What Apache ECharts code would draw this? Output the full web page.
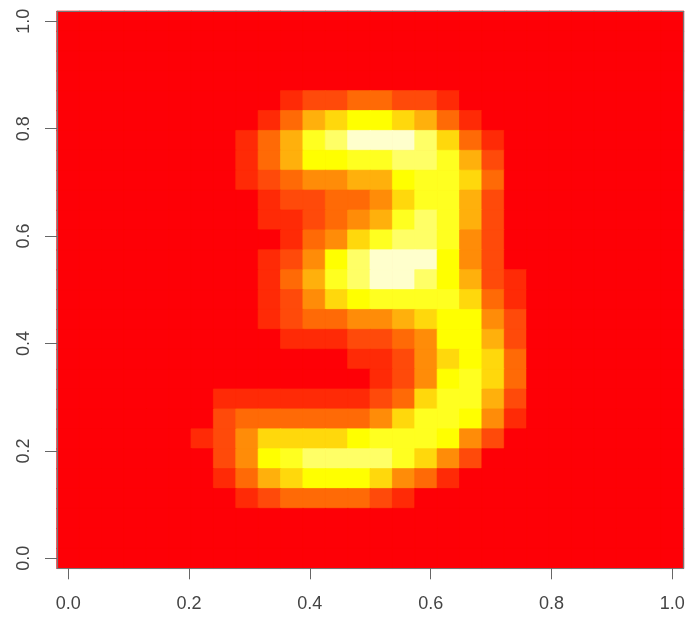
<!DOCTYPE html>
<html>
<head>
<meta charset="utf-8">
<style>html,body{margin:0;padding:0;background:#fff}#c{width:690px;height:618px}</style>
<script src="https://cdn.jsdelivr.net/npm/echarts@6/dist/echarts.min.js"></script>
</head>
<body>
<div id="c"></div>
<script>
const levelColors = ['#fe0006','#ff2a06','#ff4a0a','#ff6a06','#ff8c08','#ffb00c','#ffd80c','#ffff00','#ffff20','#ffff66','#ffffcc'];
const tickValues = [0, 0.2, 0.4, 0.6, 0.8, 1];
const pixelRows = [
[0,0,0,0,0,0,0,0,0,0,0,0,0,0,0,0,0,0,0,0,0,0,0,0,0,0,0,0],
[0,0,0,0,0,0,0,0,0,0,0,0,0,0,0,0,0,0,0,0,0,0,0,0,0,0,0,0],
[0,0,0,0,0,0,0,0,0,0,0,0,0,0,0,0,0,0,0,0,0,0,0,0,0,0,0,0],
[0,0,0,0,0,0,0,0,0,0,0,0,0,0,0,0,0,0,0,0,0,0,0,0,0,0,0,0],
[0,0,0,0,0,0,0,0,0,0,1,2,2,3,3,2,2,1,0,0,0,0,0,0,0,0,0,0],
[0,0,0,0,0,0,0,0,0,1,3,5,6,7,7,6,5,3,1,0,0,0,0,0,0,0,0,0],
[0,0,0,0,0,0,0,0,1,3,5,8,9,10,10,10,9,6,3,1,0,0,0,0,0,0,0,0],
[0,0,0,0,0,0,0,0,1,3,5,7,7,8,8,9,9,8,5,2,0,0,0,0,0,0,0,0],
[0,0,0,0,0,0,0,0,1,2,3,4,4,5,5,7,8,8,6,3,0,0,0,0,0,0,0,0],
[0,0,0,0,0,0,0,0,0,1,2,2,3,3,4,6,8,8,5,2,0,0,0,0,0,0,0,0],
[0,0,0,0,0,0,0,0,0,1,1,2,3,4,5,8,9,8,5,2,0,0,0,0,0,0,0,0],
[0,0,0,0,0,0,0,0,0,0,1,3,4,6,8,9,9,8,4,2,0,0,0,0,0,0,0,0],
[0,0,0,0,0,0,0,0,0,1,2,4,7,9,10,10,10,7,4,2,0,0,0,0,0,0,0,0],
[0,0,0,0,0,0,0,0,0,1,3,5,8,9,10,10,9,7,5,2,1,0,0,0,0,0,0,0],
[0,0,0,0,0,0,0,0,0,1,2,4,6,7,8,8,8,8,6,3,1,0,0,0,0,0,0,0],
[0,0,0,0,0,0,0,0,0,1,2,3,3,4,4,5,6,7,7,4,2,0,0,0,0,0,0,0],
[0,0,0,0,0,0,0,0,0,0,1,1,1,2,2,3,4,7,7,5,2,0,0,0,0,0,0,0],
[0,0,0,0,0,0,0,0,0,0,0,0,0,1,1,2,4,6,7,6,3,0,0,0,0,0,0,0],
[0,0,0,0,0,0,0,0,0,0,0,0,0,0,1,2,4,7,8,6,3,0,0,0,0,0,0,0],
[0,0,0,0,0,0,0,1,1,1,1,1,1,1,2,3,6,8,8,5,2,0,0,0,0,0,0,0],
[0,0,0,0,0,0,0,2,3,3,3,3,3,3,4,6,8,8,7,4,1,0,0,0,0,0,0,0],
[0,0,0,0,0,0,1,2,4,6,6,6,6,7,8,8,8,7,4,2,0,0,0,0,0,0,0,0],
[0,0,0,0,0,0,0,2,4,7,8,9,9,9,9,8,6,4,2,0,0,0,0,0,0,0,0,0],
[0,0,0,0,0,0,0,1,3,5,6,7,7,7,6,4,3,1,0,0,0,0,0,0,0,0,0,0],
[0,0,0,0,0,0,0,0,1,2,3,3,3,3,2,1,0,0,0,0,0,0,0,0,0,0,0,0],
[0,0,0,0,0,0,0,0,0,0,0,0,0,0,0,0,0,0,0,0,0,0,0,0,0,0,0,0],
[0,0,0,0,0,0,0,0,0,0,0,0,0,0,0,0,0,0,0,0,0,0,0,0,0,0,0,0],
[0,0,0,0,0,0,0,0,0,0,0,0,0,0,0,0,0,0,0,0,0,0,0,0,0,0,0,0]
];

const cells = [];
pixelRows.forEach((row, r) => row.forEach((v, c) => {
  const color = levelColors[v];
  cells.push({ value: [c, r, v], itemStyle: { color, borderColor: color, borderWidth: 0.7 } });
}));
const indexCats = pixelRows.map((_, i) => i);
const halfCell = 1 / 54;
const tickLabelColor = '#444444', axisColor = '#666', frameColor = '#777777';
const labelFont = { color: tickLabelColor, fontFamily: '"Liberation Sans", Arial, sans-serif', fontSize: 18 };
const frameLine = { show: true, onZero: false, lineStyle: { color: frameColor, width: 1.2 } };

const chart = echarts.init(document.getElementById('c'), null, { renderer: 'canvas' });
chart.setOption({
  animation: false,
  backgroundColor: '#fff',
  grid: { left: 57, right: 6.5, top: 11.3, bottom: 49.7, show: true, borderWidth: 0, backgroundColor: levelColors[0], containLabel: false },
  xAxis: [
    { type: 'category', data: indexCats, position: 'top', boundaryGap: true, z: 5,
      axisLine: frameLine, axisTick: { show: false }, axisLabel: { show: false }, splitLine: { show: false } },
    { type: 'value', position: 'bottom', min: -halfCell, max: 1 + halfCell, z: 5,
      splitLine: { show: false },
      axisLine: frameLine,
      axisTick: { show: true, length: 11, customValues: tickValues, lineStyle: { color: axisColor, width: 1 } },
      axisLabel: { show: true, margin: 27, customValues: tickValues, formatter: v => v.toFixed(1), ...labelFont } }
  ],
  yAxis: [
    { type: 'category', data: indexCats, position: 'right', inverse: true, boundaryGap: true, z: 5,
      axisLine: frameLine, axisTick: { show: false }, axisLabel: { show: false }, splitLine: { show: false } },
    { type: 'value', position: 'left', min: -halfCell, max: 1 + halfCell, z: 5,
      splitLine: { show: false },
      axisLine: frameLine,
      axisTick: { show: true, length: 12, customValues: tickValues, lineStyle: { color: axisColor, width: 1 } },
      axisLabel: { show: true, rotate: 90, margin: 33, customValues: tickValues, formatter: v => v.toFixed(1), align: 'center', verticalAlign: 'middle', ...labelFont } }
  ],
  series: [{
    type: 'heatmap', xAxisIndex: 0, yAxisIndex: 0, data: cells, silent: true,
    progressive: 0, emphasis: { disabled: true }
  }]
});
</script>
</body>
</html>
